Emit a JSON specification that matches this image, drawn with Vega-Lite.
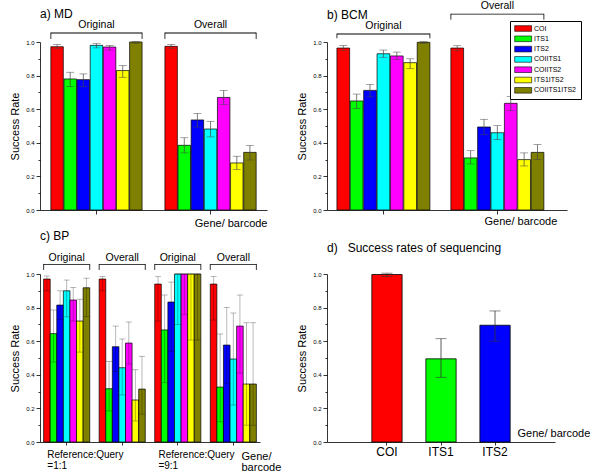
{
  "$schema": "https://vega.github.io/schema/vega-lite/v6.json",
  "padding": {"left": 9, "top": 0, "right": 0, "bottom": 0},
  "config": {
    "font": "Liberation Sans",
    "view": {"stroke": null},
    "axis": {"domainColor": "black", "tickColor": "black", "labelColor": "black", "titleColor": "black", "titleFontWeight": "normal", "grid": false, "domainWidth": 0.8, "tickWidth": 0.8, "labelFont": "Liberation Sans", "titleFont": "Liberation Sans"},
    "title": {"font": "Liberation Sans", "fontWeight": "normal", "fontSize": 12, "color": "black"},
    "text": {"font": "Liberation Sans", "color": "black"}
  },
  "datasets": {
    "a": [
      {"group": "Original", "gene": "COI", "v": 0.972, "lo": 0.96, "hi": 0.986},
      {"group": "Original", "gene": "ITS1", "v": 0.78, "lo": 0.735, "hi": 0.82},
      {"group": "Original", "gene": "ITS2", "v": 0.776, "lo": 0.736, "hi": 0.81},
      {"group": "Original", "gene": "COIITS1", "v": 0.98, "lo": 0.965, "hi": 0.99},
      {"group": "Original", "gene": "COIITS2", "v": 0.97, "lo": 0.952, "hi": 0.98},
      {"group": "Original", "gene": "ITS1ITS2", "v": 0.83, "lo": 0.79, "hi": 0.86},
      {"group": "Original", "gene": "COIITS1ITS2", "v": 1.0, "lo": 0.99, "hi": 1.002},
      {"group": "Overall", "gene": "COI", "v": 0.974, "lo": 0.962, "hi": 0.986},
      {"group": "Overall", "gene": "ITS1", "v": 0.385, "lo": 0.34, "hi": 0.43},
      {"group": "Overall", "gene": "ITS2", "v": 0.536, "lo": 0.494, "hi": 0.575},
      {"group": "Overall", "gene": "COIITS1", "v": 0.482, "lo": 0.435, "hi": 0.528},
      {"group": "Overall", "gene": "COIITS2", "v": 0.67, "lo": 0.627, "hi": 0.712},
      {"group": "Overall", "gene": "ITS1ITS2", "v": 0.28, "lo": 0.24, "hi": 0.32},
      {"group": "Overall", "gene": "COIITS1ITS2", "v": 0.343, "lo": 0.298, "hi": 0.385}
    ],
    "b": [
      {"group": "Original", "gene": "COI", "v": 0.964, "lo": 0.948, "hi": 0.978},
      {"group": "Original", "gene": "ITS1", "v": 0.649, "lo": 0.605, "hi": 0.69},
      {"group": "Original", "gene": "ITS2", "v": 0.712, "lo": 0.673, "hi": 0.748},
      {"group": "Original", "gene": "COIITS1", "v": 0.93, "lo": 0.909, "hi": 0.952},
      {"group": "Original", "gene": "COIITS2", "v": 0.917, "lo": 0.897, "hi": 0.94},
      {"group": "Original", "gene": "ITS1ITS2", "v": 0.877, "lo": 0.841, "hi": 0.9},
      {"group": "Original", "gene": "COIITS1ITS2", "v": 0.998, "lo": 0.99, "hi": 1.002},
      {"group": "Overall", "gene": "COI", "v": 0.964, "lo": 0.948, "hi": 0.978},
      {"group": "Overall", "gene": "ITS1", "v": 0.31, "lo": 0.274, "hi": 0.353},
      {"group": "Overall", "gene": "ITS2", "v": 0.494, "lo": 0.448, "hi": 0.54},
      {"group": "Overall", "gene": "COIITS1", "v": 0.46, "lo": 0.419, "hi": 0.502},
      {"group": "Overall", "gene": "COIITS2", "v": 0.635, "lo": 0.593, "hi": 0.675},
      {"group": "Overall", "gene": "ITS1ITS2", "v": 0.3, "lo": 0.262, "hi": 0.34},
      {"group": "Overall", "gene": "COIITS1ITS2", "v": 0.343, "lo": 0.3, "hi": 0.389}
    ],
    "c": [
      {"group": "1:1 Original", "gene": "COI", "v": 0.97, "lo": 0.9, "hi": 0.988},
      {"group": "1:1 Original", "gene": "ITS1", "v": 0.645, "lo": 0.476, "hi": 0.786},
      {"group": "1:1 Original", "gene": "ITS2", "v": 0.815, "lo": 0.73, "hi": 0.9},
      {"group": "1:1 Original", "gene": "COIITS1", "v": 0.9, "lo": 0.745, "hi": 0.964},
      {"group": "1:1 Original", "gene": "COIITS2", "v": 0.845, "lo": 0.72, "hi": 0.92},
      {"group": "1:1 Original", "gene": "ITS1ITS2", "v": 0.72, "lo": 0.535, "hi": 0.85},
      {"group": "1:1 Original", "gene": "COIITS1ITS2", "v": 0.918, "lo": 0.746, "hi": 0.975},
      {"group": "1:1 Overall", "gene": "COI", "v": 0.97, "lo": 0.9, "hi": 0.985},
      {"group": "1:1 Overall", "gene": "ITS1", "v": 0.317, "lo": 0.185, "hi": 0.48},
      {"group": "1:1 Overall", "gene": "ITS2", "v": 0.567, "lo": 0.42, "hi": 0.69},
      {"group": "1:1 Overall", "gene": "COIITS1", "v": 0.442, "lo": 0.28, "hi": 0.613},
      {"group": "1:1 Overall", "gene": "COIITS2", "v": 0.589, "lo": 0.464, "hi": 0.714},
      {"group": "1:1 Overall", "gene": "ITS1ITS2", "v": 0.25, "lo": 0.125, "hi": 0.43},
      {"group": "1:1 Overall", "gene": "COIITS1ITS2", "v": 0.315, "lo": 0.166, "hi": 0.51},
      {"group": "9:1 Original", "gene": "COI", "v": 0.94, "lo": 0.72, "hi": 0.984},
      {"group": "9:1 Original", "gene": "ITS1", "v": 0.667, "lo": 0.353, "hi": 0.875},
      {"group": "9:1 Original", "gene": "ITS2", "v": 0.833, "lo": 0.54, "hi": 0.952},
      {"group": "9:1 Original", "gene": "COIITS1", "v": 1.0, "lo": 0.7, "hi": 1.0},
      {"group": "9:1 Original", "gene": "COIITS2", "v": 1.0, "lo": 0.76, "hi": 1.0},
      {"group": "9:1 Original", "gene": "ITS1ITS2", "v": 1.0, "lo": 0.607, "hi": 1.0},
      {"group": "9:1 Original", "gene": "COIITS1ITS2", "v": 1.0, "lo": 0.607, "hi": 1.0},
      {"group": "9:1 Overall", "gene": "COI", "v": 0.94, "lo": 0.726, "hi": 0.985},
      {"group": "9:1 Overall", "gene": "ITS1", "v": 0.327, "lo": 0.12, "hi": 0.643},
      {"group": "9:1 Overall", "gene": "ITS2", "v": 0.577, "lo": 0.35, "hi": 0.8},
      {"group": "9:1 Overall", "gene": "COIITS1", "v": 0.494, "lo": 0.22, "hi": 0.768},
      {"group": "9:1 Overall", "gene": "COIITS2", "v": 0.69, "lo": 0.41, "hi": 0.875},
      {"group": "9:1 Overall", "gene": "ITS1ITS2", "v": 0.345, "lo": 0.1, "hi": 0.71},
      {"group": "9:1 Overall", "gene": "COIITS1ITS2", "v": 0.345, "lo": 0.1, "hi": 0.71}
    ],
    "d": [
      {"gene": "COI", "v": 0.997, "lo": 0.985, "hi": 1.005},
      {"gene": "ITS1", "v": 0.495, "lo": 0.385, "hi": 0.615},
      {"gene": "ITS2", "v": 0.695, "lo": 0.6, "hi": 0.78}
    ],
    "brAB": [
      {"group": "Original", "label": "Original"},
      {"group": "Overall", "label": "Overall"}
    ],
    "brC": [
      {"group": "1:1 Original", "label": "Original"},
      {"group": "1:1 Overall", "label": "Overall"},
      {"group": "9:1 Original", "label": "Original"},
      {"group": "9:1 Overall", "label": "Overall"}
    ],
    "labC": [
      {"group": "1:1 Original", "label": "Reference:Query\n=1:1"},
      {"group": "9:1 Original", "label": "Reference:Query\n=9:1"}
    ]
  },
  "resolve": {"scale": {"fill": "independent", "xOffset": "independent"}},
  "columns": 2,
  "bounds": "flush",
  "spacing": {"row": 64, "column": 60},
  "concat": [
    {
      "width": 227, "height": 168,
      "title": {"text": "a) MD", "anchor": "start", "frame": "group", "offset": -1},
      "data": {"name": "a"},
      "resolve": {"axis": {"y": "independent"}},
      "layer": [
        {"mark": {"type": "bar", "stroke": "black", "strokeWidth": 0.7},
          "encoding": {
            "x": {"field": "group", "type": "nominal", "scale": {"domain": ["Original", "Overall"], "paddingInner": 0.2, "paddingOuter": 0.095}, "axis": {"labels": false, "tickSize": 4, "title": "Gene/ barcode", "titleX": 227, "titleY": 13, "titleAlign": "right", "titleBaseline": "middle", "titleFontSize": 11}},
            "xOffset": {"field": "gene", "type": "nominal", "scale": {"domain": ["COI", "ITS1", "ITS2", "COIITS1", "COIITS2", "ITS1ITS2", "COIITS1ITS2"], "paddingInner": 0.05}},
            "y": {"field": "v", "type": "quantitative", "scale": {"domain": [0, 1], "nice": false}, "axis": {"orient": "left", "title": "Success Rate", "values": [0, 0.2, 0.4, 0.6, 0.8, 1], "format": ".1f", "tickSize": 4, "labelOverlap": false, "labelFontSize": 6, "labelPadding": 2, "titleFontSize": 11, "titlePadding": 5}},
            "fill": {"field": "gene", "type": "nominal", "scale": {"domain": ["COI", "ITS1", "ITS2", "COIITS1", "COIITS2", "ITS1ITS2", "COIITS1ITS2"], "range": ["#FF0000", "#00FF00", "#0000FF", "#00FFFF", "#FF00FF", "#FFFF00", "#808000"]}, "legend": null}
          }},
        {"mark": {"type": "rule", "color": "#444", "strokeWidth": 0.7},
          "encoding": {"x": {"field": "group", "type": "nominal"}, "xOffset": {"field": "gene", "type": "nominal"}, "y": {"field": "lo", "type": "quantitative", "axis": {"orient": "left", "values": [0.1, 0.3, 0.5, 0.7, 0.9], "labels": false, "domain": false, "tickSize": 2, "title": null}}, "y2": {"field": "hi"}}},
        {"mark": {"type": "tick", "orient": "horizontal", "size": 8, "thickness": 0.7, "color": "#444"},
          "encoding": {"x": {"field": "group", "type": "nominal"}, "xOffset": {"field": "gene", "type": "nominal"}, "y": {"field": "lo", "type": "quantitative", "axis": null}}},
        {"mark": {"type": "tick", "orient": "horizontal", "size": 8, "thickness": 0.7, "color": "#444"},
          "encoding": {"x": {"field": "group", "type": "nominal"}, "xOffset": {"field": "gene", "type": "nominal"}, "y": {"field": "hi", "type": "quantitative", "axis": null}}},
        {"data": {"name": "brAB"}, "mark": {"type": "bar", "fill": "black"},
          "encoding": {"x": {"field": "group", "type": "nominal"}, "y": {"datum": 1.056, "axis": null}, "y2": {"datum": 1.051}}},
        {"data": {"name": "brAB"}, "mark": {"type": "rule", "strokeWidth": 0.8},
          "encoding": {"x": {"field": "group", "type": "nominal", "bandPosition": 0}, "y": {"datum": 1.056, "axis": null}, "y2": {"datum": 1.018}}},
        {"data": {"name": "brAB"}, "mark": {"type": "rule", "strokeWidth": 0.8},
          "encoding": {"x": {"field": "group", "type": "nominal", "bandPosition": 1}, "y": {"datum": 1.056, "axis": null}, "y2": {"datum": 1.018}}},
        {"data": {"name": "brAB"}, "mark": {"type": "text", "fontSize": 10.5},
          "encoding": {"x": {"field": "group", "type": "nominal"}, "y": {"datum": 1.101, "axis": null}, "text": {"field": "label"}}}
      ]
    },
    {
      "width": 240, "height": 168,
      "title": {"text": "b) BCM", "anchor": "start", "frame": "group", "offset": -21},
      "data": {"name": "b"},
      "resolve": {"axis": {"y": "independent"}},
      "layer": [
        {"mark": {"type": "bar", "stroke": "black", "strokeWidth": 0.7},
          "encoding": {
            "x": {"field": "group", "type": "nominal", "scale": {"domain": ["Original", "Overall"], "paddingInner": 0.184, "paddingOuter": 0.145, "align": 0.3}, "axis": {"labels": false, "tickSize": 4, "title": "Gene/ barcode", "titleX": 157, "titleY": 11, "titleAlign": "left", "titleBaseline": "middle", "titleFontSize": 11}},
            "xOffset": {"field": "gene", "type": "nominal", "scale": {"domain": ["COI", "ITS1", "ITS2", "COIITS1", "COIITS2", "ITS1ITS2", "COIITS1ITS2"], "paddingInner": 0.05}},
            "y": {"field": "v", "type": "quantitative", "scale": {"domain": [0, 1], "nice": false}, "axis": {"orient": "left", "title": "Success Rate", "values": [0, 0.2, 0.4, 0.6, 0.8, 1], "format": ".1f", "tickSize": 4, "labelOverlap": false, "labelFontSize": 6, "labelPadding": 2, "titleFontSize": 11, "titlePadding": 5}},
            "fill": {"field": "gene", "type": "nominal", "scale": {"domain": ["COI", "ITS1", "ITS2", "COIITS1", "COIITS2", "ITS1ITS2", "COIITS1ITS2"], "range": ["#FF0000", "#00FF00", "#0000FF", "#00FFFF", "#FF00FF", "#FFFF00", "#808000"]},
              "legend": {"orient": "none", "legendX": 183, "legendY": -21, "title": null, "strokeColor": "black", "fillColor": "white", "padding": 4, "labelFontSize": 7, "labelColor": "black", "symbolType": "M-1,-1H5V1H-1Z", "symbolSize": 32, "symbolStrokeColor": "black", "symbolStrokeWidth": 0.6, "symbolOpacity": 1, "labelOffset": 13, "rowPadding": 1.3}}
          }},
        {"mark": {"type": "rule", "color": "#444", "strokeWidth": 0.7},
          "encoding": {"x": {"field": "group", "type": "nominal"}, "xOffset": {"field": "gene", "type": "nominal"}, "y": {"field": "lo", "type": "quantitative", "axis": {"orient": "left", "values": [0.1, 0.3, 0.5, 0.7, 0.9], "labels": false, "domain": false, "tickSize": 2, "title": null}}, "y2": {"field": "hi"}}},
        {"mark": {"type": "tick", "orient": "horizontal", "size": 8, "thickness": 0.7, "color": "#444"},
          "encoding": {"x": {"field": "group", "type": "nominal"}, "xOffset": {"field": "gene", "type": "nominal"}, "y": {"field": "lo", "type": "quantitative", "axis": null}}},
        {"mark": {"type": "tick", "orient": "horizontal", "size": 8, "thickness": 0.7, "color": "#444"},
          "encoding": {"x": {"field": "group", "type": "nominal"}, "xOffset": {"field": "gene", "type": "nominal"}, "y": {"field": "hi", "type": "quantitative", "axis": null}}},
        {"data": {"name": "brAB"}, "transform": [{"filter": "datum.label == 'Original'"}], "mark": {"type": "bar", "fill": "black"},
          "encoding": {"x": {"field": "group", "type": "nominal"}, "y": {"datum": 1.05, "axis": null}, "y2": {"datum": 1.045}}},
        {"data": {"name": "brAB"}, "transform": [{"filter": "datum.label == 'Original'"}], "mark": {"type": "rule", "strokeWidth": 0.8},
          "encoding": {"x": {"field": "group", "type": "nominal", "bandPosition": 0}, "y": {"datum": 1.05, "axis": null}, "y2": {"datum": 1.022}}},
        {"data": {"name": "brAB"}, "transform": [{"filter": "datum.label == 'Original'"}], "mark": {"type": "rule", "strokeWidth": 0.8},
          "encoding": {"x": {"field": "group", "type": "nominal", "bandPosition": 1}, "y": {"datum": 1.05, "axis": null}, "y2": {"datum": 1.022}}},
        {"data": {"name": "brAB"}, "transform": [{"filter": "datum.label == 'Original'"}], "mark": {"type": "text", "fontSize": 10.5},
          "encoding": {"x": {"field": "group", "type": "nominal"}, "y": {"datum": 1.097, "axis": null}, "text": {"field": "label"}}},
        {"data": {"name": "brAB"}, "transform": [{"filter": "datum.label == 'Overall'"}], "mark": {"type": "bar", "fill": "black"},
          "encoding": {"x": {"field": "group", "type": "nominal"}, "y": {"datum": 1.168, "axis": null}, "y2": {"datum": 1.163}}},
        {"data": {"name": "brAB"}, "transform": [{"filter": "datum.label == 'Overall'"}], "mark": {"type": "rule", "strokeWidth": 0.8},
          "encoding": {"x": {"field": "group", "type": "nominal", "bandPosition": 0}, "y": {"datum": 1.168, "axis": null}, "y2": {"datum": 1.133}}},
        {"data": {"name": "brAB"}, "transform": [{"filter": "datum.label == 'Overall'"}], "mark": {"type": "rule", "strokeWidth": 0.8},
          "encoding": {"x": {"field": "group", "type": "nominal", "bandPosition": 1}, "y": {"datum": 1.168, "axis": null}, "y2": {"datum": 1.133}}},
        {"data": {"name": "brAB"}, "transform": [{"filter": "datum.label == 'Overall'"}], "mark": {"type": "text", "fontSize": 10.5},
          "encoding": {"x": {"field": "group", "type": "nominal"}, "y": {"datum": 1.215, "axis": null}, "text": {"field": "label"}}}
      ]
    },
    {
      "width": 220, "height": 168,
      "title": {"text": "c) BP", "anchor": "start", "frame": "group", "offset": 10},
      "data": {"name": "c"},
      "resolve": {"axis": {"y": "independent"}},
      "layer": [
        {"mark": {"type": "bar", "stroke": "black", "strokeWidth": 0.7},
          "encoding": {
            "x": {"field": "group", "type": "nominal", "scale": {"domain": ["1:1 Original", "1:1 Overall", "9:1 Original", "9:1 Overall"], "paddingInner": 0.17, "paddingOuter": 0.065}, "axis": {"labels": false, "tickSize": 3, "title": ["Gene/", "barcode"], "titleX": 201, "titleY": 8, "titleAlign": "left", "titleBaseline": "top", "titleFontSize": 11, "titleLineHeight": 11.5}},
            "xOffset": {"field": "gene", "type": "nominal", "scale": {"domain": ["COI", "ITS1", "ITS2", "COIITS1", "COIITS2", "ITS1ITS2", "COIITS1ITS2"], "paddingInner": 0}},
            "y": {"field": "v", "type": "quantitative", "scale": {"domain": [0, 1], "nice": false}, "axis": {"orient": "left", "title": "Success Rate", "values": [0, 0.2, 0.4, 0.6, 0.8, 1], "format": ".1f", "tickSize": 4, "labelOverlap": false, "labelFontSize": 6, "labelPadding": 2, "titleFontSize": 11, "titlePadding": 5}},
            "fill": {"field": "gene", "type": "nominal", "scale": {"domain": ["COI", "ITS1", "ITS2", "COIITS1", "COIITS2", "ITS1ITS2", "COIITS1ITS2"], "range": ["#FF0000", "#00FF00", "#0000FF", "#00FFFF", "#FF00FF", "#FFFF00", "#808000"]}, "legend": null}
          }},
        {"mark": {"type": "rule", "color": "black", "strokeOpacity": 0.35, "strokeWidth": 0.8},
          "encoding": {"x": {"field": "group", "type": "nominal"}, "xOffset": {"field": "gene", "type": "nominal"}, "y": {"field": "lo", "type": "quantitative", "axis": {"orient": "left", "values": [0.1, 0.3, 0.5, 0.7, 0.9], "labels": false, "domain": false, "tickSize": 2, "title": null}}, "y2": {"field": "hi"}}},
        {"mark": {"type": "tick", "orient": "horizontal", "size": 6, "thickness": 0.8, "color": "black", "opacity": 0.35},
          "encoding": {"x": {"field": "group", "type": "nominal"}, "xOffset": {"field": "gene", "type": "nominal"}, "y": {"field": "lo", "type": "quantitative", "axis": null}}},
        {"mark": {"type": "tick", "orient": "horizontal", "size": 6, "thickness": 0.8, "color": "black", "opacity": 0.35},
          "encoding": {"x": {"field": "group", "type": "nominal"}, "xOffset": {"field": "gene", "type": "nominal"}, "y": {"field": "hi", "type": "quantitative", "axis": null}}},
        {"data": {"name": "brC"}, "mark": {"type": "bar", "fill": "black"},
          "encoding": {"x": {"field": "group", "type": "nominal"}, "y": {"datum": 1.06, "axis": null}, "y2": {"datum": 1.055}}},
        {"data": {"name": "brC"}, "mark": {"type": "rule", "strokeWidth": 0.8},
          "encoding": {"x": {"field": "group", "type": "nominal", "bandPosition": 0}, "y": {"datum": 1.06, "axis": null}, "y2": {"datum": 1.024}}},
        {"data": {"name": "brC"}, "mark": {"type": "rule", "strokeWidth": 0.8},
          "encoding": {"x": {"field": "group", "type": "nominal", "bandPosition": 1}, "y": {"datum": 1.06, "axis": null}, "y2": {"datum": 1.024}}},
        {"data": {"name": "brC"}, "mark": {"type": "text", "fontSize": 10.5},
          "encoding": {"x": {"field": "group", "type": "nominal"}, "y": {"datum": 1.096, "axis": null}, "text": {"field": "label"}}},
        {"data": {"name": "labC"}, "mark": {"type": "text", "fontSize": 10, "align": "left", "baseline": "top", "lineBreak": "\n", "lineHeight": 11},
          "encoding": {"x": {"field": "group", "type": "nominal", "bandPosition": 0.08}, "y": {"datum": -0.05, "axis": null}, "text": {"field": "label"}}}
      ]
    },
    {
      "width": 228, "height": 168,
      "title": {"text": "d)\u00a0\u00a0\u00a0Success rates of sequencing", "anchor": "start", "frame": "group", "offset": 16},
      "data": {"name": "d"},
      "resolve": {"axis": {"y": "independent"}},
      "layer": [
        {"mark": {"type": "bar", "stroke": "black", "strokeWidth": 0.8},
          "encoding": {
            "x": {"field": "gene", "type": "nominal", "scale": {"domain": ["COI", "ITS1", "ITS2"], "paddingInner": 0.44, "paddingOuter": 0.83}, "axis": {"labelAngle": 0, "labelFontSize": 12, "tickSize": 3, "labelPadding": 1, "title": "Gene/ barcode", "titleX": 190, "titleY": -9, "titleAlign": "left", "titleBaseline": "middle", "titleFontSize": 11}},
            "y": {"field": "v", "type": "quantitative", "scale": {"domain": [0, 1], "nice": false}, "axis": {"orient": "left", "title": "Success Rate", "values": [0, 0.2, 0.4, 0.6, 0.8, 1], "format": ".1f", "tickSize": 4, "labelOverlap": false, "labelFontSize": 6, "labelPadding": 2, "titleFontSize": 11, "titlePadding": 5}},
            "fill": {"field": "gene", "type": "nominal", "scale": {"domain": ["COI", "ITS1", "ITS2"], "range": ["#FF0000", "#00FF00", "#0000FF"]}, "legend": null}
          }},
        {"mark": {"type": "rule", "color": "#333", "strokeWidth": 0.8},
          "encoding": {"x": {"field": "gene", "type": "nominal"}, "y": {"field": "lo", "type": "quantitative", "axis": {"orient": "left", "values": [0.1, 0.3, 0.5, 0.7, 0.9], "labels": false, "domain": false, "tickSize": 2, "title": null}}, "y2": {"field": "hi"}}},
        {"mark": {"type": "tick", "orient": "horizontal", "size": 11, "thickness": 0.8, "color": "#333"},
          "encoding": {"x": {"field": "gene", "type": "nominal"}, "y": {"field": "lo", "type": "quantitative", "axis": null}}},
        {"mark": {"type": "tick", "orient": "horizontal", "size": 11, "thickness": 0.8, "color": "#333"},
          "encoding": {"x": {"field": "gene", "type": "nominal"}, "y": {"field": "hi", "type": "quantitative", "axis": null}}}
      ]
    }
  ]
}
